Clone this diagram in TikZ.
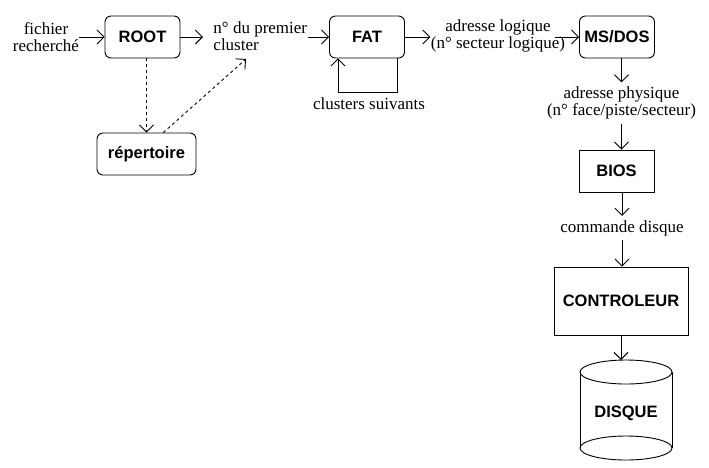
\documentclass[tikz,border=0pt]{standalone}
\usepackage{fontspec}
\setmainfont{Liberation Serif}
\setsansfont{Liberation Sans}
\usetikzlibrary{arrows.meta}
\begin{document}
\begin{tikzpicture}[x=1pt,y=-1pt,line width=.9pt,
 >={Straight Barb[length=7pt,width=14pt]},
 txt/.style={font=\fontsize{17}{17}\selectfont,align=center,inner sep=0pt},
 etiq/.style={font=\fontsize{16.5}{17}\selectfont\sffamily\bfseries,inner sep=0pt},
 boite/.style={etiq,draw,minimum width=75pt,minimum height=42pt},
 arrondi/.style={boite,rounded corners=6pt},
 pointille/.style={dash pattern=on 3pt off 3pt}]

\useasboundingbox (0,0) rectangle (709,467);

\node[txt] (fichier) at (46,37) {fichier\\recherch\'e};
\node[arrondi] (root) at (142.5,37) {ROOT};
\node[txt,align=left,anchor=west] (premier) at (213,36) {n° du premier\\cluster};
\node[arrondi,minimum width=99pt] (rep) at (146.5,154) {r\'epertoire};
\coordinate (clu) at (246,59);

\draw[->] (fichier.east) -- (root.west);
\draw[->,shorten >=10pt] (root.east) -- (root.east -| premier.west);
\draw[->,pointille] (root.south -| rep.north) -- (rep.north);
\draw[->,pointille] (rep.52) -- (clu);

\node[arrondi] (fat) at (367,37) {FAT};
\node[txt] (suivants) at (369,104) {clusters suivants};
\node[txt] (logique) at (498,36) {adresse logique\\(n° secteur logique)};

\draw[->] (premier.east |- fat.west) -- (fat.west);
\draw[->] ([xshift=30pt]fat.south) -- ++(0,34) -| ([xshift=-29pt]fat.south);
\draw[->] (fat.east) -- (fat.east -| logique.west);

\node[arrondi] (msdos) at (617,37) {MS/DOS};
\node[txt,inner sep=4pt] (physique) at (621.5,103) {adresse physique\\(n° face/piste/secteur)};
\node[boite] (bios) at (616.5,171) {BIOS};
\node[txt,inner sep=4pt] (commande) at (622,228) {commande disque};
\node[boite,minimum width=134pt,minimum height=68pt] (controleur) at (621,301) {CONTROLEUR};

\draw[->] ([xshift=-11pt]logique.east |- msdos.west) -- (msdos.west);
\draw[->] (msdos.south -| physique.north) -- (physique.north);
\draw[->] (physique.south) -- (physique.south |- bios.north);
\draw[->] (bios.south -| commande.north) -- (commande.north);
\draw[->] (commande.south) -- (commande.south |- controleur.north);

\draw (580,372) -- (580,448) (672,372) -- (672,448);
\draw (626,372) ellipse [x radius=46pt,y radius=12pt];
\draw (626,448) ellipse [x radius=46pt,y radius=12pt];
\node[etiq] (disque) at (626,413) {DISQUE};
\coordinate (disquehaut) at (626,360);

\draw[->] (controleur.south) -- (controleur.south |- disquehaut);

\end{tikzpicture}
\end{document}
